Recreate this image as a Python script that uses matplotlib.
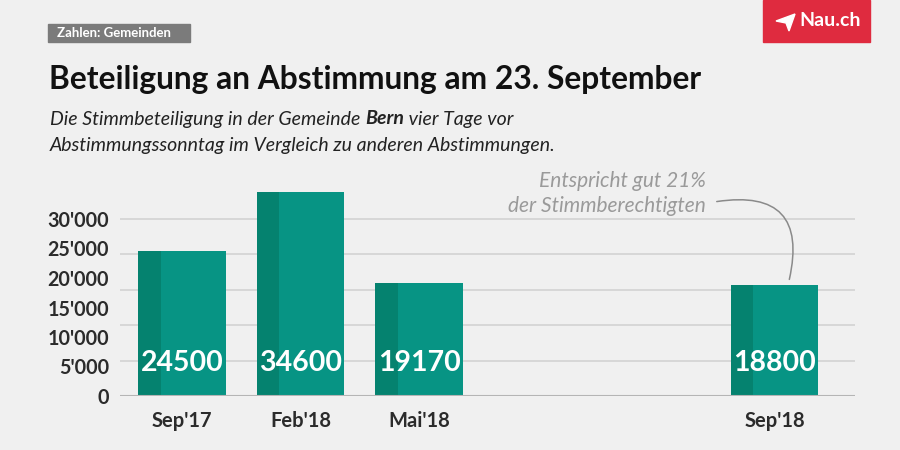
import matplotlib
matplotlib.use("Agg")
import matplotlib.pyplot as plt
from matplotlib.patches import Rectangle, Polygon

# ---- data ----
categories = ["Sep'17", "Feb'18", "Mai'18", "Sep'18"]
slots = [0, 1, 2, 5]
values = [24500, 34600, 19170, 18800]
ytick_values = [0, 5000, 10000, 15000, 20000, 25000, 30000]
ytick_labels = ["0", "5'000", "10'000", "15'000", "20'000", "25'000", "30'000"]
grid_values = [6000, 12000, 18000, 24000, 30000]

title = "Beteiligung an Abstimmung am 23. September"
sub_a = "Die Stimmbeteiligung in der Gemeinde "
sub_b = "Bern"
sub_c = " vier Tage vor"
sub_line2 = "Abstimmungssonntag im Vergleich zu anderen Abstimmungen."
tag = "Zahlen: Gemeinden"
logo = "Nau.ch"
note = "Entspricht gut 21%\nder Stimmberechtigten"

BG = "#f0f0f0"
TEAL = "#079484"
TEAL_DARK = "#05826f"
FONT = ["Lato", "DejaVu Sans"]

plt.rcParams["font.family"] = FONT

W, H = 900, 450
fig = plt.figure(figsize=(9, 4.5), dpi=100, facecolor=BG)

def fx(px):
    return px / W

def fy(py):
    return 1 - py / H

ax_left, ax_right, ax_top, ax_bottom = 120, 855, 180, 396
ax = fig.add_axes([fx(ax_left), fy(ax_bottom), (ax_right - ax_left) / W, (ax_bottom - ax_top) / H])
ax.set_facecolor(BG)
unit = 118.5
ax.set_xlim((ax_left - 182) / unit, (ax_right - 182) / unit)
ax.set_ylim(0, 30000 / 177 * (ax_bottom - ax_top))

for g in grid_values:
    ax.axhline(g, color="#d2d2d2", lw=1.2, zorder=0)
ax.axhline(0, color="#b5b5b5", lw=1.5, zorder=3)

bw = 0.74
stripe = 0.19
for s, v in zip(slots, values):
    ax.bar(s, v, width=bw, color=TEAL, zorder=2, linewidth=0)
    ax.bar(s - bw / 2 + stripe / 2, v, width=stripe, color=TEAL_DARK, zorder=2, linewidth=0)
    ax.text(s, 5600, f"{v}", ha="center", va="center", color="white",
            fontsize=20.5, fontweight="bold", zorder=4)

for sp in ax.spines.values():
    sp.set_visible(False)
ax.set_xticks(slots)
ax.set_xticklabels(categories, fontsize=14.5, fontweight="bold", color="#2b2b2b")
ax.set_yticks(ytick_values)
ax.set_yticklabels(ytick_labels, fontsize=14.2, fontweight="bold", color="#2b2b2b")
ax.tick_params(axis="both", length=0)
ax.tick_params(axis="x", pad=11)
ax.tick_params(axis="y", pad=8)

# tag box
fig.patches.append(Rectangle((fx(48), fy(42)), fx(190) - fx(48), fy(24) - fy(42),
                             transform=fig.transFigure, color="#7b7b7b", zorder=1))
fig.text(fx(57), fy(33), tag, color="white", fontsize=9.5, fontweight="bold",
         va="center", ha="left")

# logo
fig.patches.append(Rectangle((fx(763), fy(42)), fx(870) - fx(763), fy(0) - fy(42),
                             transform=fig.transFigure, color="#df2b3f", zorder=1))
plane = [(776, 21), (795, 14), (789, 31), (786, 23)]
fig.patches.append(Polygon([(fx(a), fy(b)) for a, b in plane], closed=True,
                           transform=fig.transFigure, color="white", zorder=2))
fig.text(fx(799), fy(21), logo, color="white", fontsize=14, fontweight="bold",
         va="center", ha="left")

# title
fig.text(fx(49), fy(80), title, fontsize=22.9, fontweight="bold", color="#111111",
         va="center", ha="left")

# subtitle with bold word
fig.canvas.draw()
r = fig.canvas.get_renderer()
SUB = 14
t1 = fig.text(fx(50), fy(119), sub_a, fontsize=SUB, style="italic", color="#222222",
              va="center", ha="left")
bb = t1.get_window_extent(r)
t2 = fig.text(bb.x1 / W, fy(119), sub_b, fontsize=SUB, style="italic", fontweight="bold",
              color="#222222", va="center", ha="left")
bb2 = t2.get_window_extent(r)
fig.text(bb2.x1 / W, fy(119), sub_c, fontsize=SUB, style="italic", color="#222222",
         va="center", ha="left")
fig.text(fx(50), fy(145), sub_line2, fontsize=SUB, style="italic", color="#222222",
         va="center", ha="left")

# annotation
fig.text(fx(706), fy(181), note.split("\n")[0], fontsize=15, style="italic", color="#9a9a9a",
         ha="right", va="center")
fig.text(fx(706), fy(206), note.split("\n")[1], fontsize=15, style="italic", color="#9a9a9a",
         ha="right", va="center")
ax.annotate("", xy=(5 + 0.12, values[3] + 500), xycoords="data",
            xytext=(fx(714), fy(202)), textcoords="figure fraction",
            arrowprops=dict(arrowstyle="-", color="#8a8a8a", lw=1.1,
                            connectionstyle="arc3,rad=-0.75"))

fig.savefig("out.png", dpi=100, facecolor=BG)
